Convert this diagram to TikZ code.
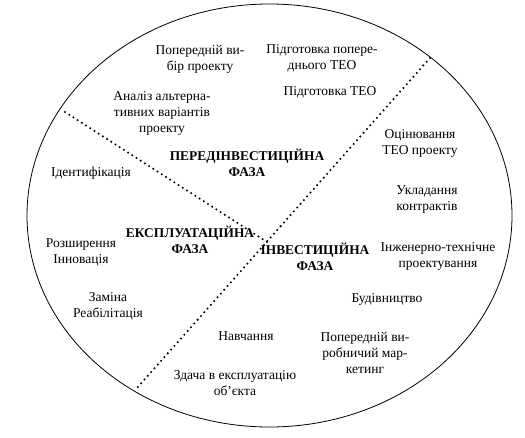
\documentclass[tikz,border=0pt]{standalone}
\usepackage{fontspec}
\setmainfont{Liberation Serif}
\usetikzlibrary{positioning, calc}

\begin{document}
\begin{tikzpicture}[x=1pt,y=-1pt,
    stage/.style={align=center,font=\rmfamily\fontsize{13.5}{16}\selectfont},
    phase/.style={align=center,font=\rmfamily\fontsize{13.4}{16.5}\selectfont\bfseries},
    border/.style={dash pattern=on 0pt off 5pt,line width=2.3pt,line cap=round}]
      \def\rx{242.5}
      \def\ry{211.5}

      \useasboundingbox (0,0) rectangle (525,437);
      \draw[line width=0.8pt] (269.5,215.5) ellipse [x radius=\rx, y radius=\ry];

      \coordinate (w) at (65,112);
      \coordinate (ne) at (430,58);
      \coordinate (sw) at (137,388);
      \coordinate (c) at (267,242);
      \draw[border] (w) -- (c);
      \draw[border] (ne) -- (sw);

      \node[phase] (preinv) at (247,163) {ПЕРЕДІНВЕСТИЦІЙНА\\ФАЗА};
      \node[phase] (expl) at (190,240) {ЕКСПЛУАТАЦІЙНА\\ФАЗА};
      \node[phase] (inv) at (315,257) {ІНВЕСТИЦІЙНА\\ФАЗА};

      \node[stage] (choice) at (200,59) {Попередній ви-\\бір проекту};
      \node[stage] (preteo) at (322,58) {Підготовка попере-\\днього ТЕО};
      \node[stage] (alt) at (162,113) {Аналіз альтерна-\\тивних варіантів\\проекту};
      \node[stage] (teo) at (330,92) {Підготовка ТЕО};
      \node[stage] (ident) at (91,173) {Ідентифікація};

      \node[stage] (eval) at (420,143) {Оцінювання\\ТЕО проекту};
      \node[stage] (contr) at (427,200) {Укладання\\контрактів};
      \node[stage] (eng) at (438,256) {Інженерно-технічне\\проектування};
      \node[stage] (build) at (387,299) {Будівництво};
      \node[stage] (market) at (365,353) {Попередній ви-\\робничий мар-\\кетинг};
      \node[stage] (train) at (246,336) {Навчання};
      \node[stage] (handover) at (235,383) {Здача в експлуатацію\\об’єкта};

      \node[stage] (ext) at (81,252) {Розширення\\Інновація};
      \node[stage] (repl) at (108,306) {Заміна\\Реабілітація};
    \end{tikzpicture}
\end{document}
